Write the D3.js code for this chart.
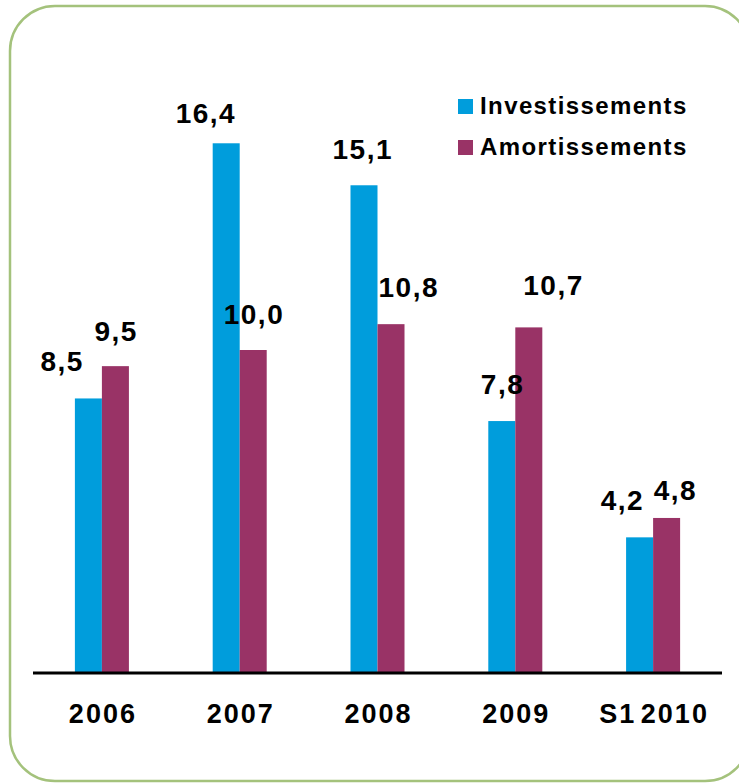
<!DOCTYPE html>
<html lang="fr">
<head>
<meta charset="UTF-8">
<title>Investissements / Amortissements</title>
<script src="https://cdn.jsdelivr.net/npm/d3@7"></script>
<style>
  * { margin: 0; padding: 0; }
  body { background: #fff; overflow: hidden; }
  text { font-family: "Liberation Sans", Arial, sans-serif; font-weight: bold; fill: #000; }
</style>
</head>
<body>
<script>
// données
const categories = ['2006', '2007', '2008', '2009', 'S1 2010']
const series = ['Investissements', 'Amortissements']
const investissements = [8.5, 16.4, 15.1, 7.8, 4.2]
const amortissements = [9.5, 10.0, 10.8, 10.7, 4.8]
const colors = ['#009ddc', '#993366']

// petits décalages des étiquettes (comme dans l'original)
const labelDx = [[-27, -21, -2, 0, -18], [0, 0, 17, 24, 8]]
const labelDy = [[-1, 6, 0, -1, -1], [1, 0, -1, -6, 8]]

const width = 739
const height = 783

const svg = d3.select('body')
  .append('svg')
  .attr('width', width)
  .attr('height', height)

// cadre arrondi
svg.append('rect')
  .attr('x', 10)
  .attr('y', 6)
  .attr('width', 740)
  .attr('height', 775)
  .attr('rx', 45)
  .attr('fill', 'none')
  .attr('stroke', '#a4c27c')
  .attr('stroke-width', 2.5)

const x0 = d3.scaleBand()
  .domain(categories)
  .range([33, 722])
  .paddingInner(0.608)
  .paddingOuter(0.304)

const x1 = d3.scaleBand()
  .domain(series)
  .range([0, x0.bandwidth()])

const y = d3.scaleLinear()
  .domain([0, 20])
  .range([673, 27])

const values = [investissements, amortissements]

const rows = []
series.forEach((s, si) => {
  categories.forEach((c, ci) => {
    rows.push({ s, si, c, ci, v: values[si][ci] })
  })
})

// barres
svg.selectAll('.bar')
  .data(rows)
  .enter()
  .append('rect')
  .attr('class', 'bar')
  .attr('x', d => x0(d.c) + x1(d.s))
  .attr('y', d => y(d.v))
  .attr('width', x1.bandwidth())
  .attr('height', d => y(0) - y(d.v))
  .attr('fill', d => colors[d.si])

// étiquettes de valeurs
svg.selectAll('.val')
  .data(rows)
  .enter()
  .append('text')
  .attr('class', 'val')
  .attr('x', d => x0(d.c) + x1(d.s) + x1.bandwidth() / 2 + labelDx[d.si][d.ci] + 0.75)
  .attr('y', d => y(d.v) - 26 + labelDy[d.si][d.ci])
  .attr('text-anchor', 'middle')
  .style('font-size', '28px')
  .style('letter-spacing', '1.5px')
  .text(d => d3.format('.1f')(d.v).replace('.', ','))

// axe des x
const xAxis = d3.axisBottom(x0).tickSize(0).tickPadding(0)

const gx = svg.append('g')
  .attr('transform', 'translate(0,' + y(0) + ')')
  .call(xAxis)

gx.select('.domain')
  .attr('d', 'M33,0H722')
  .attr('stroke', '#000')
  .attr('stroke-width', 3)

gx.selectAll('.tick text')
  .attr('y', 50)
  .attr('dy', 0)
  .attr('dx', 1)
  .style('font-size', '27px')
  .style('letter-spacing', '2px')
  .style('word-spacing', '-5px')
  .attr('font-family', null)

// légende
const legend = svg.append('g')
  .selectAll('g')
  .data(series)
  .enter()
  .append('g')
  .attr('transform', (d, i) => 'translate(458,' + (99 + i * 41) + ')')

legend.append('rect')
  .attr('width', 15)
  .attr('height', 15)
  .attr('fill', (d, i) => colors[i])

legend.append('text')
  .attr('x', 22)
  .attr('y', 15)
  .style('font-size', '24px')
  .style('letter-spacing', '1.4px')
  .text(d => d)
</script>
</body>
</html>
